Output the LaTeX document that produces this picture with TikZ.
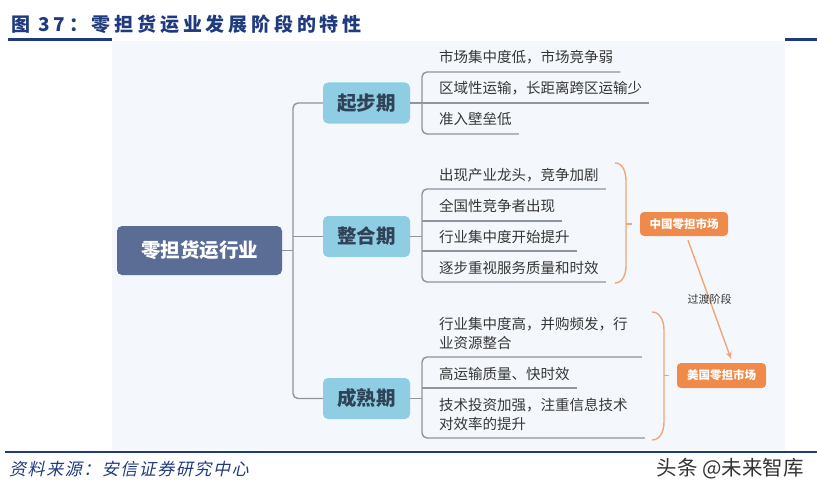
\documentclass[tikz,border=0pt]{standalone}
\usepackage{fontspec}
\setmainfont{Noto Sans CJK SC}
\newfontfamily\titlefont[LetterSpace=20]{Noto Sans CJK SC}
\newfontfamily\footfont[FakeSlant=0.22,LetterSpace=9]{Noto Sans CJK SC}
\usetikzlibrary{arrows.meta,calc}
\definecolor{navy}{HTML}{1F3A7E}
\definecolor{panel}{HTML}{F4F8FC}
\definecolor{rootc}{HTML}{5B6D95}
\definecolor{stagec}{HTML}{8ECDE2}
\definecolor{stagetxt}{HTML}{2F4257}
\definecolor{linec}{HTML}{8E959D}
\definecolor{leafc}{HTML}{363636}
\definecolor{orangec}{HTML}{F08A4B}
\definecolor{bracec}{HTML}{F2A676}
\tikzset{
  conn/.style={draw=linec, line width=1.4pt},
  rootbox/.style={fill=rootc, rounded corners=5pt, minimum width=165pt, minimum height=49pt, text=white, font=\fontsize{19.5}{22}\selectfont\bfseries, inner sep=0},
  stagebox/.style={fill=stagec, rounded corners=5pt, minimum width=87pt, minimum height=41pt, text=stagetxt, font=\fontsize{19.5}{22}\selectfont\bfseries, inner sep=0},
  leaf/.style={anchor=west, inner sep=0, align=left, text=leafc, font=\fontsize{14.5}{19.5}\selectfont},
  mktbox/.style={fill=orangec, rounded corners=4pt, minimum width=88pt, minimum height=24pt, text=white, font=\fontsize{11.5}{13}\selectfont\bfseries, inner sep=0},
  bracel/.style={draw=bracec, line width=1.4pt},
  arr/.style={draw=bracec, line width=1.4pt, -{Stealth[length=7pt,width=6pt]}},
}
\begin{document}
\begin{tikzpicture}[x=1pt,y=-1pt]
\useasboundingbox (0,0) rectangle (817,495);
% panel and rules
\fill[panel] (112,41) rectangle (785,450);
\draw[navy, line width=2.2pt] (8,39.5) -- (112,39.5);
\draw[navy, line width=2.2pt] (785,39.5) -- (817,39.5);
\draw[navy, line width=2.2pt] (5,452) -- (817,452);
% title and footer
\node[anchor=west, inner sep=0, text=navy, font=\titlefont\fontsize{19}{22}\selectfont\bfseries] (title) at (11,24) {图 37：零担货运业发展阶段的特性};
\node[anchor=west, inner sep=0, text=navy, font=\footfont\fontsize{17}{19}\selectfont] (src) at (9,469) {资料来源：安信证券研究中心};
\node[anchor=east, inner sep=0, text=black!80, font=\fontsize{20.5}{22}\selectfont] (wm) at (804,469) {头条 @未来智库};
% root and stages
\node[rootbox] (root) at (199.5,250.5) {零担货运行业};
\node[stagebox] (s1) at (366.5,103) {起步期};
\node[stagebox] (s2) at (366.5,236.5) {整合期};
\node[stagebox] (s3) at (366.5,398.5) {成熟期};
\coordinate (sp) at (293,0);
\draw[conn, rounded corners=5pt] (s1.west) -- (s1.west -| sp) -- (s3.west -| sp) -- (s3.west);
\draw[conn] (root.east) -- (root.east -| sp);
\draw[conn] (s2.west) -- (s2.west -| sp);
% leaves
\node[leaf] (l11) at (439,57) {市场集中度低，市场竞争弱};
\node[leaf] (l12) at (439,88) {区域性运输，长距离跨区运输少};
\node[leaf] (l13) at (439,119) {准入壁垒低};
\node[leaf] (l21) at (439,175) {出现产业龙头，竞争加剧};
\node[leaf] (l22) at (439,206) {全国性竞争者出现};
\node[leaf] (l23) at (439,237) {行业集中度开始提升};
\node[leaf] (l24) at (439,268) {逐步重视服务质量和时效};
\node[leaf] (l31) at (439,333.5) {行业集中度高，并购频发，行\\业资源整合};
\node[leaf] (l32) at (439,374) {高运输质量、快时效};
\node[leaf] (l33) at (439,414.5) {技术投资加强，注重信息技术\\对效率的提升};
% group 1
\coordinate (g1a) at (422,72);
\coordinate (g1b) at (422,103);
\coordinate (g1c) at (422,134);
\draw[conn, rounded corners=5pt] ($(l11.east|-g1a)+(7,0)$) -- (g1a) -- (g1c) -- ($(l13.east|-g1c)+(7,0)$);
\draw[conn] (g1b) -- ($(l12.east|-g1b)+(7,0)$);
\draw[conn] (s1.east) -- (s1.east -| g1b);
% group 2
\coordinate (g2a) at (422,189);
\coordinate (g2b) at (422,221);
\coordinate (g2c) at (422,251);
\coordinate (g2d) at (422,282);
\draw[conn, rounded corners=5pt] ($(l21.east|-g2a)+(7,0)$) -- (g2a) -- (g2d) -- ($(l24.east|-g2d)+(7,0)$);
\draw[conn] (g2b) -- ($(l22.east|-g2b)+(7,0)$);
\draw[conn] (g2c) -- ($(l23.east|-g2c)+(7,0)$);
\draw[conn] (s2.east) -- (s2.east -| g2a);
% group 3
\coordinate (g3a) at (422,357);
\coordinate (g3b) at (422,388);
\coordinate (g3c) at (422,438);
\draw[conn, rounded corners=5pt] ($(l31.east|-g3a)+(14,0)$) -- (g3a) -- (g3c) -- ($(l33.east|-g3c)+(17,0)$);
\draw[conn] (g3b) -- ($(l32.east|-g3b)+(7,0)$);
\draw[conn] (s3.east) -- (s3.east -| g3a);
% markets
\node[mktbox] (cn) at (684,224) {中国零担市场};
\node[mktbox, minimum width=89pt, minimum height=25pt] (us) at (721.5,375.5) {美国零担市场};
\coordinate (b1) at (626,224);
\coordinate (b2) at (664,375.5);
\draw[bracel] (615,163) to[out=0,in=90] (b1 |- 0,181) -- (b1 |- 0,266) to[out=-90,in=0] (615,283);
\draw[bracel] (b1) -- ($(cn.west)+(-8,0)$);
\draw[bracel] (652,312) to[out=0,in=90] (b2 |- 0,330) -- (b2 |- 0,422) to[out=-90,in=0] (652,440);
\draw[bracel] (b2) -- ($(us.west)+(-8,0)$);
\draw[arr] ($(cn.south)+(4,4)$) -- node[midway, text=leafc, font=\fontsize{11}{13}\selectfont, inner sep=0] (tr) {过渡阶段} ($(us.north)+(9.5,-4)$);
\end{tikzpicture}
\end{document}
